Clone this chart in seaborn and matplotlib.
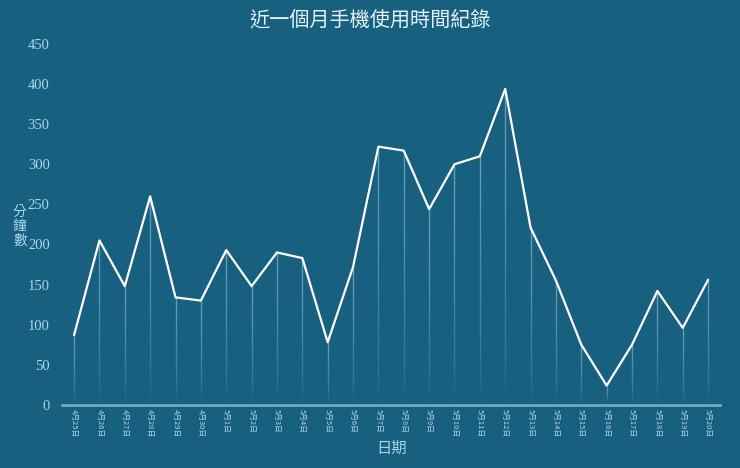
import numpy as np
import pandas as pd
import matplotlib
matplotlib.use("Agg")
import matplotlib.pyplot as plt
from matplotlib.collections import LineCollection
import seaborn as sns

# data
dates = ["4月25日", "4月26日", "4月27日", "4月28日", "4月29日", "4月30日",
         "5月1日", "5月2日", "5月3日", "5月4日", "5月5日", "5月6日",
         "5月7日", "5月8日", "5月9日", "5月10日", "5月11日", "5月12日",
         "5月13日", "5月14日", "5月15日", "5月16日", "5月17日", "5月18日",
         "5月19日", "5月20日"]
minutes = [87, 205, 148, 260, 134, 130, 193, 148, 190, 183, 78, 172,
           322, 317, 244, 300, 310, 394, 221, 155, 75, 24, 75, 142, 96, 156]
y_ticks = [0, 50, 100, 150, 200, 250, 300, 350, 400, 450]

BG = "#17607f"
TXT = "#a9d7ea"
CJK = ["Noto Sans CJK TC", "DejaVu Sans"]
NUM = ["Liberation Serif", "DejaVu Serif"]

sns.set_theme(style="white", rc={"axes.facecolor": BG, "figure.facecolor": BG})
plt.rcParams["font.family"] = CJK

df = pd.DataFrame({"date": dates, "minutes": minutes})

fig = plt.figure(figsize=(7.4, 4.68), dpi=100)
ax = fig.add_axes([0.084, 0.135, 0.889, 0.771])

# fading stems under each point
xs = np.arange(len(dates))
segs, cols = [], []
for x, y in zip(xs, minutes):
    n = 30
    hs = np.linspace(6, y, n + 1)
    for k in range(n):
        segs.append([(x, hs[k]), (x, hs[k + 1])])
        frac = (k + 0.5) / n
        cols.append((0.66, 0.84, 0.92, 0.55 * frac ** 0.6))
ax.add_collection(LineCollection(segs, colors=cols, linewidths=1.0, zorder=1))

sns.lineplot(data=df, x="date", y="minutes", ax=ax, color="white",
             linewidth=1.6, sort=False, zorder=3)

ax.set_xlim(-0.47, len(dates) - 0.53)
ax.set_ylim(0, 450)
ax.set_yticks(y_ticks)
ax.set_yticklabels([str(v) for v in y_ticks], family=NUM, fontsize=10.5, color=TXT)
ax.set_xticks(xs)
ax.set_xticklabels(dates, rotation=-90, fontsize=5.5, color=TXT)
ax.tick_params(axis="both", length=0)
ax.tick_params(axis="y", pad=9)
ax.tick_params(axis="x", pad=3)

for s in ["top", "right", "left"]:
    ax.spines[s].set_visible(False)
ax.spines["bottom"].set_color("#6fa9c6")
ax.spines["bottom"].set_linewidth(2)

ax.set_xlabel("日期", fontsize=11, color=TXT, labelpad=2)
ax.set_ylabel("")
fig.text(0.027, 0.517, "分\n鐘\n數", fontsize=10, color=TXT,
         ha="center", va="center", linespacing=1.05)
fig.text(0.5, 0.957, "近一個月手機使用時間紀錄", fontsize=14.5,
         color="#e6f3f9", ha="center", va="center")

fig.savefig("out.png", dpi=100, facecolor=BG)
